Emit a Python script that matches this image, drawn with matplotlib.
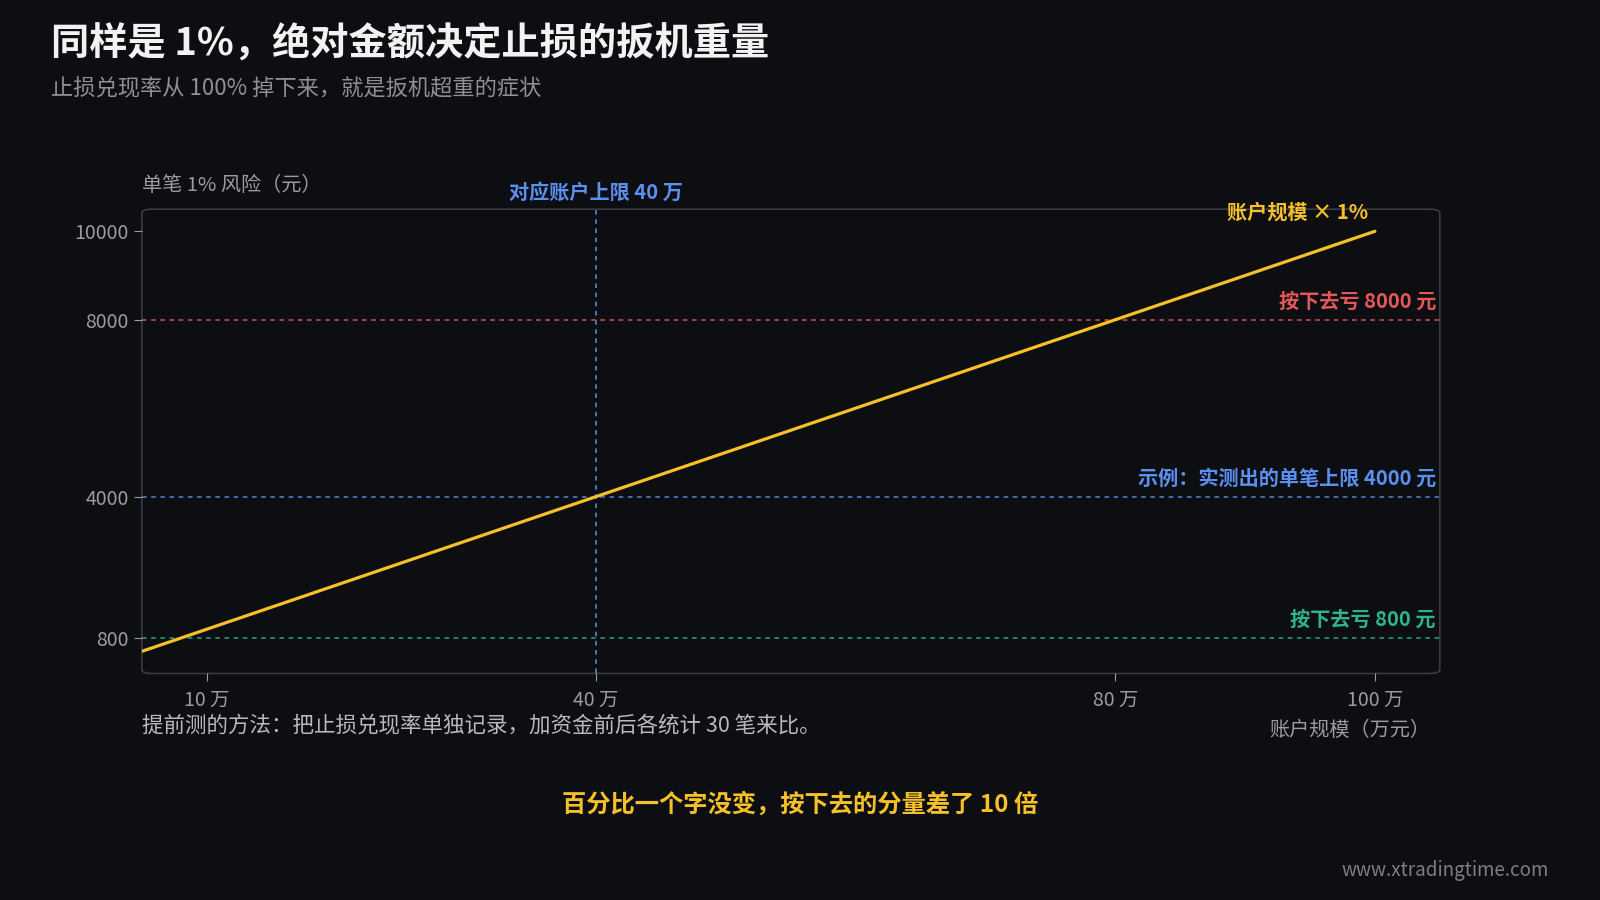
import matplotlib
matplotlib.use("Agg")
import matplotlib.pyplot as plt
from matplotlib.patches import FancyBboxPatch

plt.rcParams['font.family'] = ['Noto Sans CJK SC', 'DejaVu Sans']

account = [5, 100]          # 万元
risk = [500, 10000]         # 元
xticks = [10, 40, 80, 100]
xticklabels = ["10 万", "40 万", "80 万", "100 万"]
yticks = [800, 4000, 8000, 10000]
ref_lines = [(8000, "按下去亏 8000 元", "#e5585a"),
             (4000, "示例：实测出的单笔上限 4000 元", "#5b8ff0"),
             (800, "按下去亏 800 元", "#2fb38c")]
vline_x = 40

BG = "#0d0e12"
W, H = 1568, 882
fig = plt.figure(figsize=(16, 9), dpi=100, facecolor=BG)
def fx(px): return px / W
def fy(py): return 1 - py / H

ax = fig.add_axes([fx(139), fy(660), fx(1411) - fx(139), fy(205) - fy(660)])
ax.set_facecolor(BG)
ax.set_xlim(5, 105)
ax.set_ylim(0, 10500)
for s in ax.spines.values():
    s.set_visible(False)
box = FancyBboxPatch((0, 0), 1, 1, boxstyle="round,pad=0,rounding_size=0.008",
                     transform=ax.transAxes, fill=False, ec="#3a3c44", lw=1.2, clip_on=False)
ax.add_patch(box)

for y, lab, c in ref_lines:
    ax.axhline(y, color=c, ls=(0, (3, 3)), lw=1.1, alpha=0.9)
    ax.text(104.7, y + 180, lab, color=c, ha="right", va="bottom", fontsize=14.5, fontweight="bold")
ax.axvline(vline_x, color="#5b8ff0", ls=(0, (3, 3)), lw=1.1)
ax.text(vline_x, 10650, "对应账户上限 40 万", color="#5b8ff0", ha="center", va="bottom",
        fontsize=14.5, fontweight="bold", clip_on=False)

ax.plot(account, risk, color="#f5c02a", lw=2.3, solid_capstyle="round")
ax.text(99.5, 10200, "账户规模 × 1%", color="#f5c02a", ha="right", va="bottom",
        fontsize=14.5, fontweight="bold")

ax.set_xticks(xticks)
ax.set_xticklabels(xticklabels)
ax.set_yticks(yticks)
ax.tick_params(colors="#9a9ca3", labelsize=14, length=6, color="#9a9ca3")
ax.tick_params(axis="x", pad=6)

fig.text(fx(50), fy(43), "同样是 1%，绝对金额决定止损的扳机重量", color="#f2f2f2",
         fontsize=27.5, fontweight="bold", va="center")
fig.text(fx(50), fy(87), "止损兑现率从 100% 掉下来，就是扳机超重的症状", color="#8e9096",
         fontsize=16, va="center")
fig.text(fx(139), fy(182), "单笔 1% 风险（元）", color="#9a9ca3", fontsize=14.5, va="center")
fig.text(fx(1402), fy(716), "账户规模（万元）", color="#9a9ca3", fontsize=14.5, va="center", ha="right")
fig.text(fx(139), fy(712), "提前测的方法：把止损兑现率单独记录，加资金前后各统计 30 笔来比。",
         color="#b8bac0", fontsize=15.5, va="center")
fig.text(0.5, fy(788), "百分比一个字没变，按下去的分量差了 10 倍", color="#f5c02a",
         fontsize=17.5, fontweight="bold", ha="center", va="center")
fig.text(fx(1518), fy(853), "www.xtradingtime.com", color="#7c7e85", fontsize=13.5,
         ha="right", va="center")

fig.savefig("out.png", dpi=100, facecolor=BG)
